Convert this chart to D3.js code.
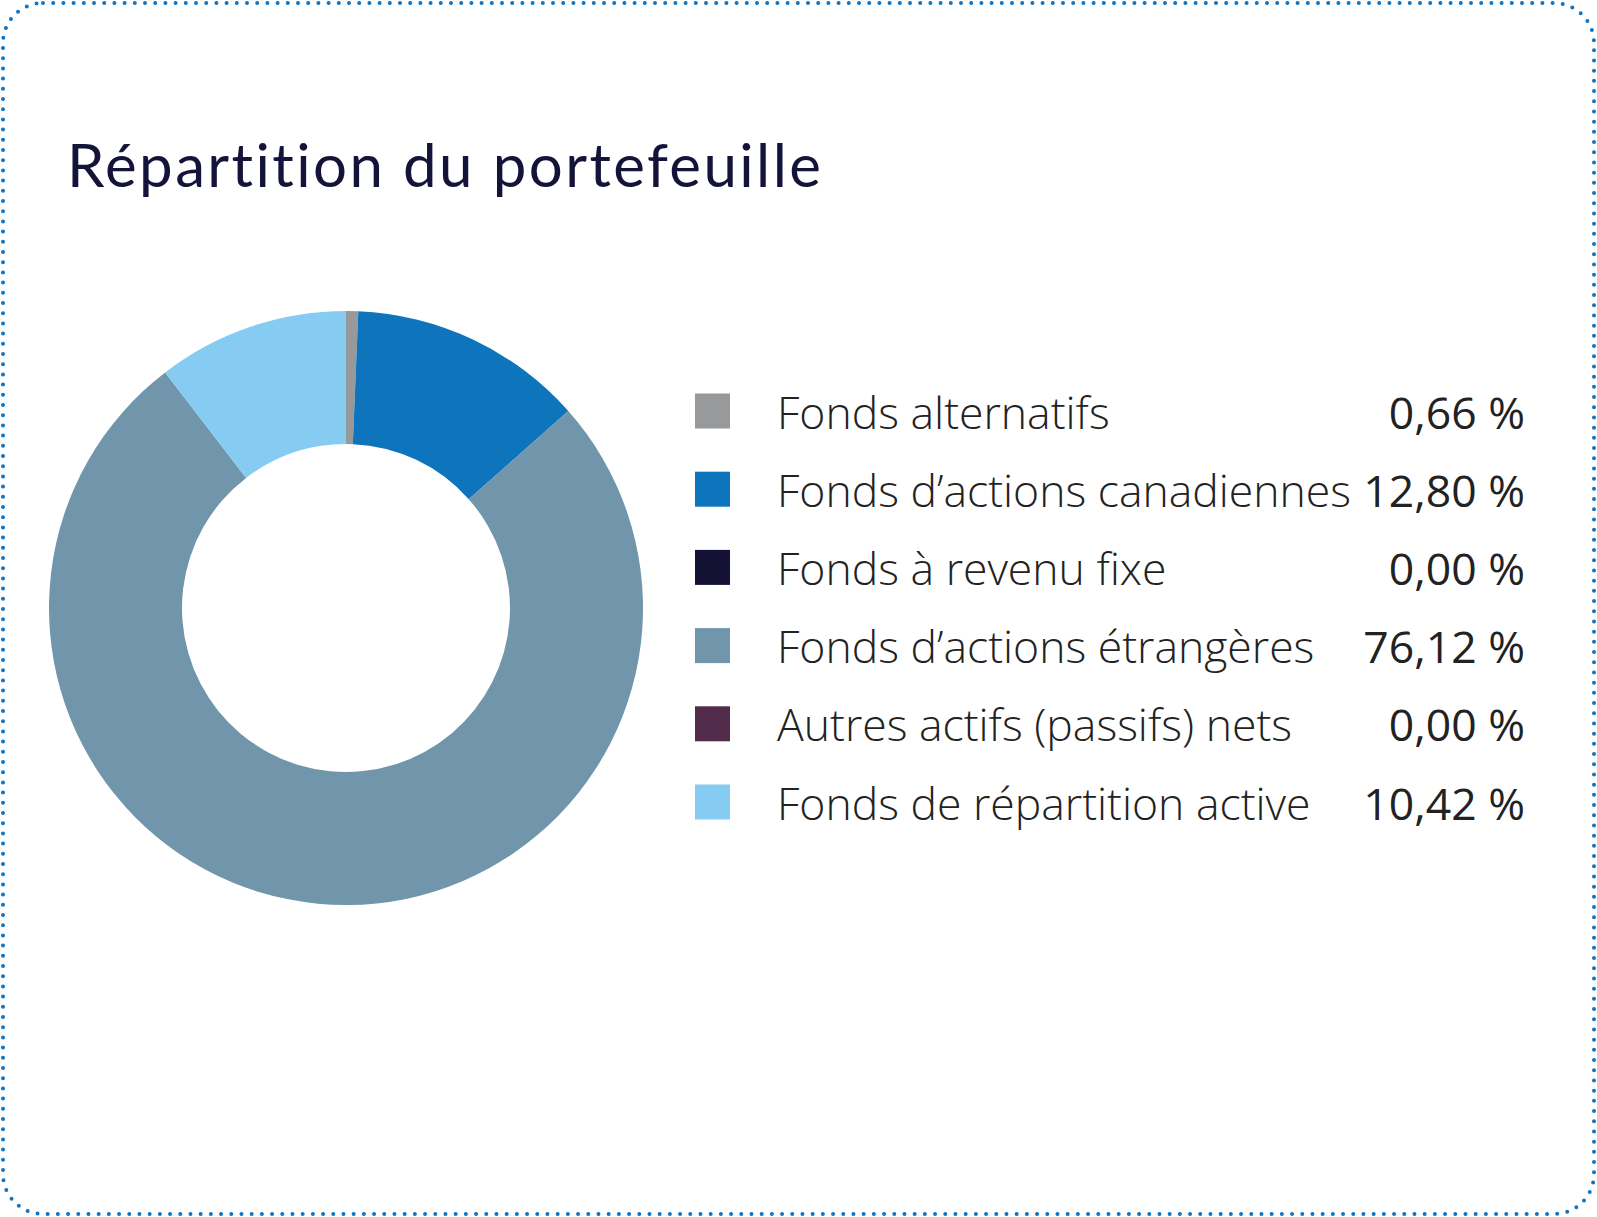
<!DOCTYPE html>
<html lang="fr">
<head>
<meta charset="UTF-8">
<title>Répartition du portefeuille</title>
<script src="https://cdn.jsdelivr.net/npm/d3@7/dist/d3.min.js"></script>
<style>
  body { margin: 0; background: #fff; }
  svg { display: block; }
</style>
</head>
<body>
<div id="chart"></div>
<script>
// Portfolio breakdown (values in %)
const categories = [
  "Fonds alternatifs",
  "Fonds d\u2019actions canadiennes",
  "Fonds à revenu fixe",
  "Fonds d\u2019actions étrangères",
  "Autres actifs (passifs) nets",
  "Fonds de répartition active"
];
const values = [0.66, 12.80, 0.00, 76.12, 0.00, 10.42];
const valueLabels = ["0,66 %", "12,80 %", "0,00 %", "76,12 %", "0,00 %", "10,42 %"];
const colors = ["#98999b", "#0e74bc", "#131235", "#7195aa", "#522c4a", "#86ccf2"];
const title = "Répartition du portefeuille";

const width = 1597, height = 1217;

const svg = d3.select('#chart').append('svg')
    .attr('width', width)
    .attr('height', height);

// dotted rounded frame
svg.append('rect')
    .attr('x', 3).attr('y', 3)
    .attr('width', width - 6).attr('height', height - 6)
    .attr('rx', 40).attr('ry', 40)
    .attr('fill', 'none')
    .attr('stroke', '#0e74c4')
    .attr('stroke-width', 4)
    .attr('stroke-linecap', 'round')
    .attr('stroke-dasharray', '0 10.2');

svg.append('text')
    .attr('x', 67)
    .attr('y', 187)
    .attr('font-family', 'Lato, "Noto Sans", sans-serif')
    .attr('font-size', 60)
    .attr('letter-spacing', 2.4)
    .style('font-variant-ligatures', 'none')
    .attr('fill', '#14133a')
    .text(title);

// donut
const cx = 346, cy = 608, outerR = 297, innerR = 164;
const color = d3.scaleOrdinal().domain(categories).range(colors);

const pie = d3.pie().sort(null).value(d => d.value);
const arc = d3.arc().innerRadius(innerR).outerRadius(outerR);
const data = categories.map((c, i) => ({ name: c, value: values[i] }));

svg.append('g')
    .attr('transform', `translate(${cx},${cy})`)
    .selectAll('path')
    .data(pie(data))
    .join('path')
    .attr('d', arc)
    .attr('fill', d => color(d.data.name));

// legend
const rowY = d3.scalePoint()
    .domain(categories)
    .range([411, 411 + 78.2 * 5]);

const legend = svg.append('g')
    .selectAll('g')
    .data(data)
    .join('g')
    .attr('transform', d => `translate(0,${rowY(d.name)})`);

legend.append('rect')
    .attr('x', 695).attr('y', -17.5)
    .attr('width', 35).attr('height', 35)
    .attr('fill', d => color(d.name));

legend.append('text')
    .attr('x', 777)
    .attr('y', 17.5)
    .attr('font-family', '"Open Sans", sans-serif')
    .attr('font-weight', 300)
    .attr('font-size', 44.5)
    .attr('fill', '#222')
    .text(d => d.name);

legend.append('text')
    .attr('x', 1525)
    .attr('y', 17.5)
    .attr('text-anchor', 'end')
    .attr('font-family', '"Open Sans", sans-serif')
    .attr('font-size', 44.5)
    .attr('fill', '#222')
    .text((d, i) => valueLabels[i]);
</script>
</body>
</html>
